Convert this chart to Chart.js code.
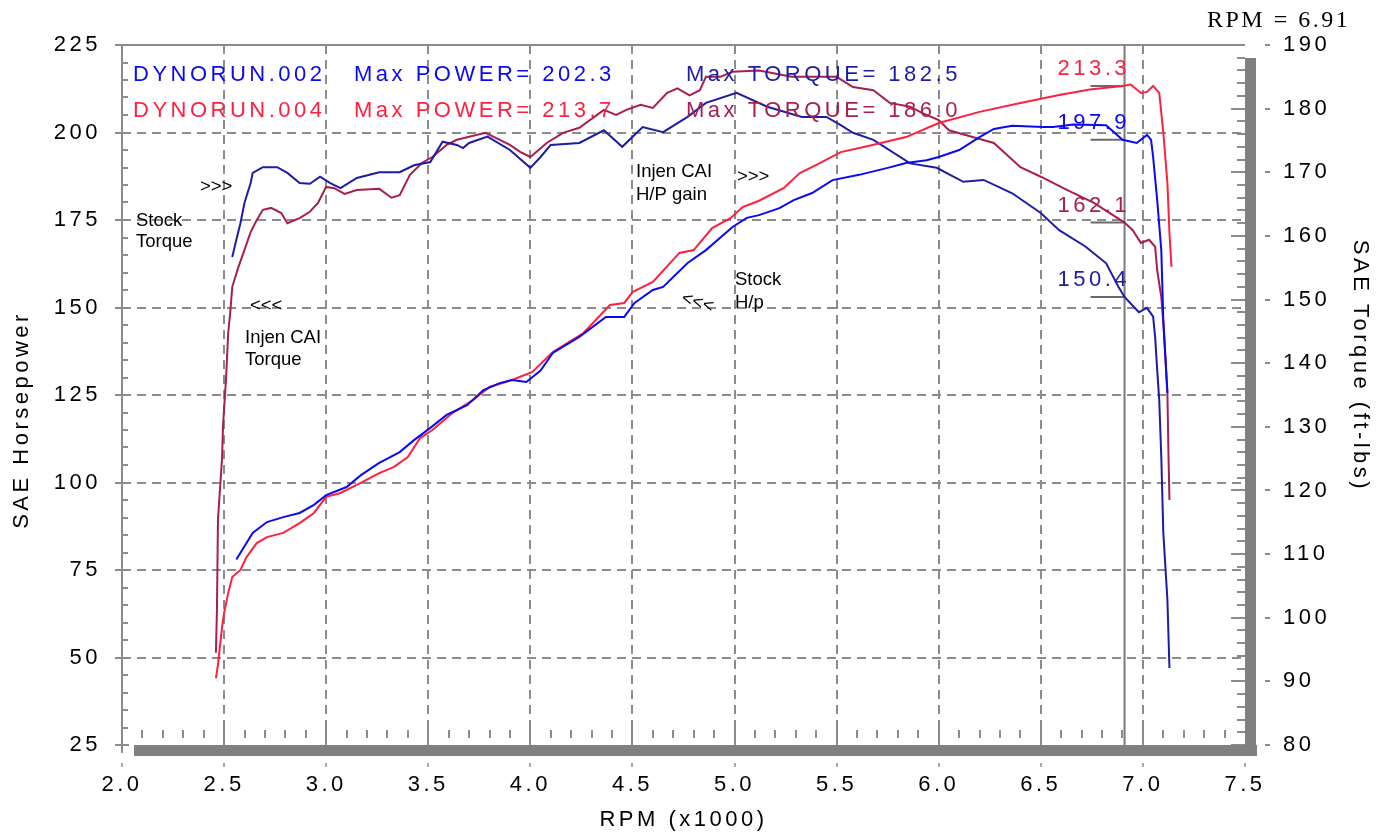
<!DOCTYPE html>
<html lang="en">
<head>
<meta charset="UTF-8" />
<title>Dyno Run Comparison</title>
<script src="https://cdn.jsdelivr.net/npm/chart.js"></script>
<style>
  html, body { margin: 0; padding: 0; background: #fff; }
  #wrap { width: 1385px; height: 836px; }
</style>
</head>
<body>
<div id="wrap"><canvas id="dyno" width="1385" height="836"></canvas></div>
<script>
// DYNORUN.002 = stock, DYNORUN.004 = Injen CAI
const stockHpRpm = [2.56,2.64,2.71,2.79,2.87,2.94,3.00,3.10,3.17,3.26,3.36,3.43,3.51,3.59,3.69,3.77,3.85,3.91,3.98,4.05,4.11,4.24,4.37,4.46,4.51,4.60,4.65,4.77,4.86,4.99,5.06,5.12,5.22,5.29,5.38,5.48,5.61,5.75,5.84,5.94,6.00,6.10,6.20,6.27,6.36,6.51,6.56,6.66,6.82,6.90,6.97,7.02,7.04,7.05,7.07,7.09,7.10,7.12];
const stockHp = [78.0,85.6,88.7,90.1,91.3,93.6,96.4,98.7,102.1,105.6,108.7,112.1,115.6,119.3,122.1,126.4,128.4,129.3,128.7,132.0,137.0,141.6,147.3,147.3,151.3,155.0,155.9,162.7,166.4,173.0,175.6,176.4,178.4,180.7,182.7,186.4,187.9,189.9,191.3,192.1,193.0,195.0,198.7,201.0,201.9,201.6,201.6,202.3,202.1,197.9,197.0,199.3,197.9,193.0,180.7,166.4,146.4,125.6];

const injenHpRpm = [2.46,2.47,2.49,2.50,2.52,2.54,2.58,2.61,2.66,2.71,2.79,2.87,2.94,3.00,3.07,3.15,3.26,3.33,3.40,3.46,3.52,3.62,3.72,3.80,3.91,4.01,4.11,4.26,4.39,4.46,4.50,4.60,4.73,4.80,4.89,4.98,5.04,5.12,5.24,5.32,5.42,5.52,5.66,5.84,6.00,6.20,6.40,6.59,6.74,6.90,6.94,6.99,7.02,7.05,7.08,7.10,7.12,7.13,7.14];
const injenHp = [44.1,47.9,58.7,62.7,68.4,73.0,75.0,78.7,82.7,84.4,85.6,88.4,91.3,95.9,97.0,99.3,102.7,104.4,107.3,112.7,115.0,119.9,123.6,127.3,129.3,131.6,137.3,142.7,150.7,151.3,154.4,157.3,165.6,166.4,172.7,175.5,178.7,180.5,184.1,188.4,191.3,194.4,196.2,198.7,202.7,205.9,208.4,210.7,212.3,213.3,213.7,211.3,211.6,213.3,211.3,199.9,185.6,171.3,161.6];

const stockTqRpm = [2.54,2.56,2.58,2.60,2.63,2.64,2.69,2.76,2.81,2.87,2.92,2.97,3.02,3.07,3.15,3.26,3.36,3.43,3.51,3.57,3.64,3.67,3.70,3.79,3.90,4.00,4.05,4.10,4.24,4.36,4.45,4.55,4.65,4.77,4.86,5.01,5.16,5.33,5.45,5.52,5.58,5.68,5.86,5.99,6.12,6.22,6.36,6.50,6.59,6.72,6.82,6.88,6.91,6.98,7.02,7.05,7.06,7.07,7.08,7.09,7.10,7.12,7.13];
const stockTq = [156.7,159.4,162.0,165.2,168.3,169.9,170.8,170.8,169.9,168.3,168.2,169.3,168.3,167.5,169.1,170.0,170.0,171.1,171.6,174.8,174.3,173.8,174.6,175.6,173.5,170.7,172.4,174.3,174.6,176.6,174.0,177.1,176.3,178.7,180.9,182.5,180.3,178.7,178.7,177.4,176.2,175.1,171.4,170.7,168.5,168.8,166.7,163.6,160.9,158.3,155.7,152.0,150.4,148.0,148.7,147.3,144.1,138.9,134.2,125.3,113.3,102.8,92.1];

const injenTqRpm = [2.46,2.465,2.47,2.49,2.495,2.51,2.52,2.53,2.54,2.57,2.60,2.63,2.66,2.69,2.73,2.78,2.81,2.87,2.92,2.96,3.00,3.04,3.09,3.15,3.26,3.32,3.36,3.41,3.47,3.52,3.59,3.64,3.78,3.90,3.95,4.00,4.08,4.16,4.24,4.36,4.42,4.47,4.54,4.60,4.67,4.72,4.78,4.83,4.86,4.93,4.99,5.12,5.28,5.50,5.58,5.68,5.76,5.86,5.92,6.00,6.05,6.17,6.27,6.40,6.50,6.63,6.76,6.91,6.95,6.99,7.03,7.06,7.07,7.09,7.10,7.11,7.12,7.125,7.13];
const injenTq = [94.5,101.2,115.4,125.1,130.3,137.8,144.7,147.9,152.0,155.1,157.8,160.6,162.5,164.1,164.4,163.6,162.0,162.8,163.8,165.2,167.7,167.5,166.6,167.2,167.4,166.0,166.4,169.6,171.5,172.4,174.3,175.1,176.2,174.3,173.2,172.4,174.6,176.2,177.0,179.8,179.0,179.8,180.6,180.1,182.5,183.2,182.1,182.9,185.0,185.0,185.8,186.0,185.0,185.0,183.4,182.9,180.9,180.3,179.3,178.2,176.6,175.5,174.6,170.8,169.3,167.2,165.2,162.1,160.9,158.9,159.4,158.3,154.6,150.4,146.3,141.0,135.3,125.9,118.5];

const runNames = ['DYNORUN.002', 'DYNORUN.004'];
const maxPower = [202.3, 213.7];
const maxTorque = [182.5, 186.0];

const cursorRpm = 6.91;
const cursorHp = [213.3, 197.9];   // injen, stock
const cursorTq = [162.1, 150.4];   // injen, stock

const C_STOCK_HP = '#0a0af2';
const C_INJEN_HP = '#ff1f3f';
const C_STOCK_TQ = '#1c1ca6';
const C_INJEN_TQ = '#a81f4e';
const GRID = '#8c8c8c';
const FONT = '"Liberation Sans", Arial, sans-serif';

const pts = (xs, ys) => xs.map((x, i) => ({ x: x, y: ys[i] }));

function seg(ctx, x1, y1, x2, y2) {
  ctx.beginPath(); ctx.moveTo(x1, y1); ctx.lineTo(x2, y2); ctx.stroke();
}

const framePlugin = {
  id: 'frame',
  beforeDraw(chart) {
    chart.ctx.letterSpacing = '3.5px';
  },
  beforeDatasetsDraw(chart) {
    const { ctx, chartArea: a, scales: { x, y, y1 } } = chart;
    ctx.save();
    // dashed grid
    ctx.strokeStyle = GRID; ctx.lineWidth = 2;
    ctx.setLineDash([9, 6]);
    for (let v = 2.5; v < 7.4; v += 0.5) {
      const px = Math.round(x.getPixelForValue(v));
      seg(ctx, px, a.top, px, a.bottom - 25);
    }
    for (let v = 50; v <= 200; v += 25) {
      const py = Math.round(y.getPixelForValue(v));
      seg(ctx, a.left, py, a.right, py);
    }
    ctx.setLineDash([]);
    // frame
    seg(ctx, a.left, a.top, a.right, a.top);
    seg(ctx, a.left, a.top, a.left, a.bottom + 8);
    // left ticks
    for (let v = 25; v <= 225; v += 5) {
      const py = Math.round(y.getPixelForValue(v));
      if (v % 25 === 0) seg(ctx, a.left - 7, py, a.left + 7, py);
      else seg(ctx, a.left, py, a.left + 6, py);
    }
    // bottom ticks
    for (let i = 1; i < 55; i++) {
      const px = Math.round(x.getPixelForValue(2 + i / 10));
      if (i % 5 === 0) seg(ctx, px, a.bottom - 25, px, a.bottom);
      else seg(ctx, px, a.bottom - 15, px, a.bottom - 7);
    }
    // right (torque) ticks
    for (let v = 80; v <= 190; v += 2) {
      const py = Math.round(y1.getPixelForValue(v));
      if (v % 10 === 0) {
        seg(ctx, a.right - 14, py, a.right, py);
        seg(ctx, a.right + 20, py, a.right + 25, py);
      } else seg(ctx, a.right - 8, py, a.right, py);
    }
    // dots under the rpm axis
    ctx.lineWidth = 1.5;
    for (let v = 2; v <= 7.5; v += 0.5) {
      const px = Math.round(x.getPixelForValue(v));
      seg(ctx, px, a.bottom + 18, px, a.bottom + 22);
    }
    // shadow bars
    ctx.fillStyle = '#808080';
    ctx.fillRect(a.left + 12, a.bottom, a.right - a.left, 11);
    ctx.fillRect(a.right, a.top + 13, 11, a.bottom - a.top - 2);
    // cursor line
    const cx = x.getPixelForValue(cursorRpm);
    ctx.strokeStyle = '#7a7a7a'; ctx.lineWidth = 2;
    seg(ctx, cx, a.top, cx, a.bottom);
    ctx.strokeStyle = '#6a6a6a';
    cursorHp.forEach(v => { const py = y.getPixelForValue(v); seg(ctx, cx - 34, py, cx, py); });
    cursorTq.forEach(v => { const py = y1.getPixelForValue(v); seg(ctx, cx - 34, py, cx, py); });
    ctx.restore();
  },
  afterDatasetsDraw(chart) {
    const { ctx, chartArea: a, scales: { x, y, y1 } } = chart;
    ctx.save();
    ctx.textBaseline = 'middle';
    ctx.textAlign = 'left';
    ctx.font = '22px ' + FONT;
    // run legend
    const rows = [[C_STOCK_HP, C_STOCK_TQ, 75], [C_INJEN_HP, C_INJEN_TQ, 111]];
    rows.forEach((r, i) => {
      ctx.fillStyle = r[0];
      ctx.fillText(runNames[i], 133, r[2]);
      ctx.fillText('Max POWER= ' + maxPower[i].toFixed(1), 354, r[2]);
      ctx.fillStyle = r[1];
      ctx.fillText('Max TORQUE= ' + maxTorque[i].toFixed(1), 686, r[2]);
    });
    // cursor values
    const cx = x.getPixelForValue(cursorRpm);
    const tx = cx - 67;
    ctx.fillStyle = C_INJEN_HP; ctx.fillText(cursorHp[0].toFixed(1), tx, y.getPixelForValue(cursorHp[0]) - 17);
    ctx.fillStyle = C_STOCK_HP; ctx.fillText(cursorHp[1].toFixed(1), tx, y.getPixelForValue(cursorHp[1]) - 17);
    ctx.fillStyle = C_INJEN_TQ; ctx.fillText(cursorTq[0].toFixed(1), tx, y1.getPixelForValue(cursorTq[0]) - 17);
    ctx.fillStyle = C_STOCK_TQ; ctx.fillText(cursorTq[1].toFixed(1), tx, y1.getPixelForValue(cursorTq[1]) - 17);
    // axis titles
    ctx.fillStyle = '#000';
    ctx.textAlign = 'center';
    ctx.save(); ctx.translate(22, 420); ctx.rotate(-Math.PI / 2);
    ctx.fillText('SAE Horsepower', 0, 0); ctx.restore();
    ctx.save(); ctx.translate(1360, 366); ctx.rotate(Math.PI / 2);
    ctx.fillText('SAE Torque (ft-lbs)', 0, 0); ctx.restore();
    // cursor readout
    ctx.textAlign = 'left';
    ctx.letterSpacing = '2.5px';
    ctx.font = '24px "Liberation Serif", "Times New Roman", serif';
    ctx.fillText('RPM = ' + cursorRpm.toFixed(2), 1207, 21);
    // hand notes
    ctx.letterSpacing = '0px';
    ctx.font = '18.5px ' + FONT;
    ctx.fillText('Stock', 136, 221);
    ctx.fillText('Torque', 136, 242);
    ctx.fillText('>>>', 200, 187);
    ctx.fillText('<<<', 250, 306);
    ctx.fillText('Injen CAI', 245, 338);
    ctx.fillText('Torque', 245, 360);
    ctx.fillText('Injen CAI', 636, 172);
    ctx.fillText('H/P gain', 636, 195);
    ctx.fillText('>>>', 737, 177);
    ctx.fillText('Stock', 735, 280);
    ctx.fillText('H/p', 735, 303);
    ctx.save(); ctx.translate(682, 298); ctx.rotate(0.3);
    ctx.fillText('<<<', 0, 0); ctx.restore();
    ctx.restore();
  }
};

const noPad = s => { s.paddingTop = 0; s.paddingBottom = 0; s.paddingLeft = 0; s.paddingRight = 0; };

new Chart(document.getElementById('dyno'), {
  type: 'line',
  data: {
    datasets: [
      { label: 'Stock HP', data: pts(stockHpRpm, stockHp), borderColor: C_STOCK_HP, yAxisID: 'y' },
      { label: 'Injen HP', data: pts(injenHpRpm, injenHp), borderColor: C_INJEN_HP, yAxisID: 'y' },
      { label: 'Stock Torque', data: pts(stockTqRpm, stockTq), borderColor: C_STOCK_TQ, yAxisID: 'y1' },
      { label: 'Injen Torque', data: pts(injenTqRpm, injenTq), borderColor: C_INJEN_TQ, yAxisID: 'y1' }
    ]
  },
  options: {
    responsive: false,
    animation: false,
    devicePixelRatio: 1,
    layout: { padding: { top: 45, left: 0, right: 0, bottom: 0 } },
    plugins: { legend: { display: false }, tooltip: { enabled: false } },
    elements: { point: { radius: 0 }, line: { borderWidth: 2, tension: 0, fill: false } },
    scales: {
      x: {
        type: 'linear', min: 2, max: 7.5,
        afterFit: s => { s.height = 91; noPad(s); },
        grid: { display: false, drawTicks: false }, border: { display: false },
        ticks: { stepSize: 0.5, padding: 27, color: '#000', font: { family: FONT, size: 22 },
                 maxRotation: 0, autoSkip: false, callback: v => v.toFixed(1) },
        title: { display: true, text: 'RPM (x1000)', color: '#000', font: { family: FONT, size: 22 },
                 padding: { top: 0, bottom: 3 } }
      },
      y: {
        position: 'left', min: 25, max: 225,
        afterFit: s => { s.width = 122; noPad(s); },
        grid: { display: false, drawTicks: false }, border: { display: false },
        ticks: { stepSize: 25, padding: 21, color: '#000', font: { family: FONT, size: 22 } }
      },
      y1: {
        position: 'right', min: 80, max: 190,
        afterFit: s => { s.width = 140; noPad(s); },
        grid: { display: false, drawTicks: false }, border: { display: false },
        ticks: { stepSize: 10, padding: 38, color: '#000', font: { family: FONT, size: 22 } }
      }
    }
  },
  plugins: [framePlugin]
});
</script>
</body>
</html>
